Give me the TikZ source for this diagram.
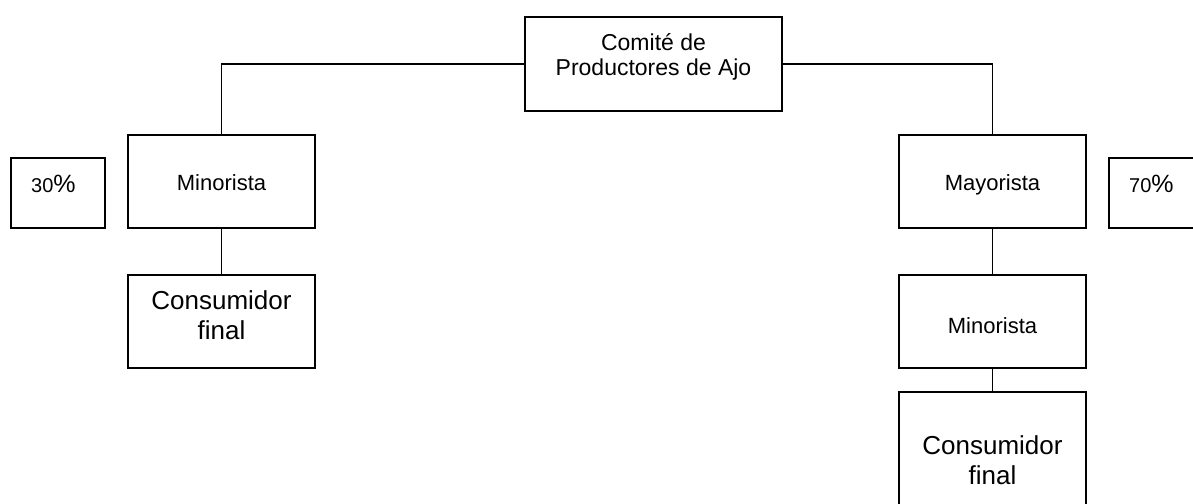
\documentclass[tikz,border=0pt]{standalone}
\usepackage{fontspec}
\setmainfont{Liberation Sans}
\begin{document}
\begin{tikzpicture}[x=1pt,y=-1pt,
  box/.style={draw, line width=1.8pt, rectangle, inner sep=0pt},
  conn/.style={line width=1.8pt},
  txt/.style={inner sep=0pt, anchor=base, align=center},
  pct/.style={inner sep=0pt, anchor=base west},
  fmid/.style={font=\fontsize{22}{25}\selectfont},
  fbig/.style={font=\fontsize{26}{29.7}\selectfont},
  ftop/.style={font=\fontsize{23}{24.5}\selectfont}]
\useasboundingbox (0,0) rectangle (1193,503);
\clip (0,0) rectangle (1193,503);
% boxes
\node[box, minimum width=257pt, minimum height=94pt] (com) at (653.5,64) {};
\node[box, minimum width=94.3pt, minimum height=70pt] (p30) at (57.9,193) {};
\node[box, minimum width=187pt, minimum height=93pt] (minL) at (221.5,181.5) {};
\node[box, minimum width=187pt, minimum height=93pt] (consL) at (221.5,321.5) {};
\node[box, minimum width=187pt, minimum height=93pt] (may) at (992.5,181.5) {};
\node[box, minimum width=120pt, minimum height=70pt] (p70) at (1169,193) {};
\node[box, minimum width=187pt, minimum height=93pt] (minR) at (992.5,321.5) {};
\node[box, minimum width=187pt, minimum height=138pt] (consR) at (992.5,461) {};
% texts
\node[txt, ftop] (tcom) at (653.5,75) {Comité de\\Productores de Ajo};
\node[txt, fmid] (tminL) at (221.5,190.7) {Minorista};
\node[txt, fmid] (tmay) at (992.5,190.7) {Mayorista};
\node[txt, fmid] (tminR) at (992.5,333.3) {Minorista};
\node[txt, fbig] (tconsL) at (221.5,339) {Consumidor\\final};
\node[txt, fbig] (tconsR) at (992.5,484.3) {Consumidor\\final};
\node[pct] (t30) at (31,192) {{\fontsize{20}{24}\selectfont 30}{\fontsize{25}{30}\selectfont\%}};
\node[pct] (t70) at (1129,192) {{\fontsize{20}{24}\selectfont 70}{\fontsize{25}{30}\selectfont\%}};
% connectors
\draw[conn] (com.west) -| (minL.north);
\draw[conn] (com.east) -| (may.north);
\draw[conn] (minL.south) -- (consL.north);
\draw[conn] (may.south) -- (minR.north);
\draw[conn] (minR.south) -- (consR.north);
\end{tikzpicture}
\end{document}
